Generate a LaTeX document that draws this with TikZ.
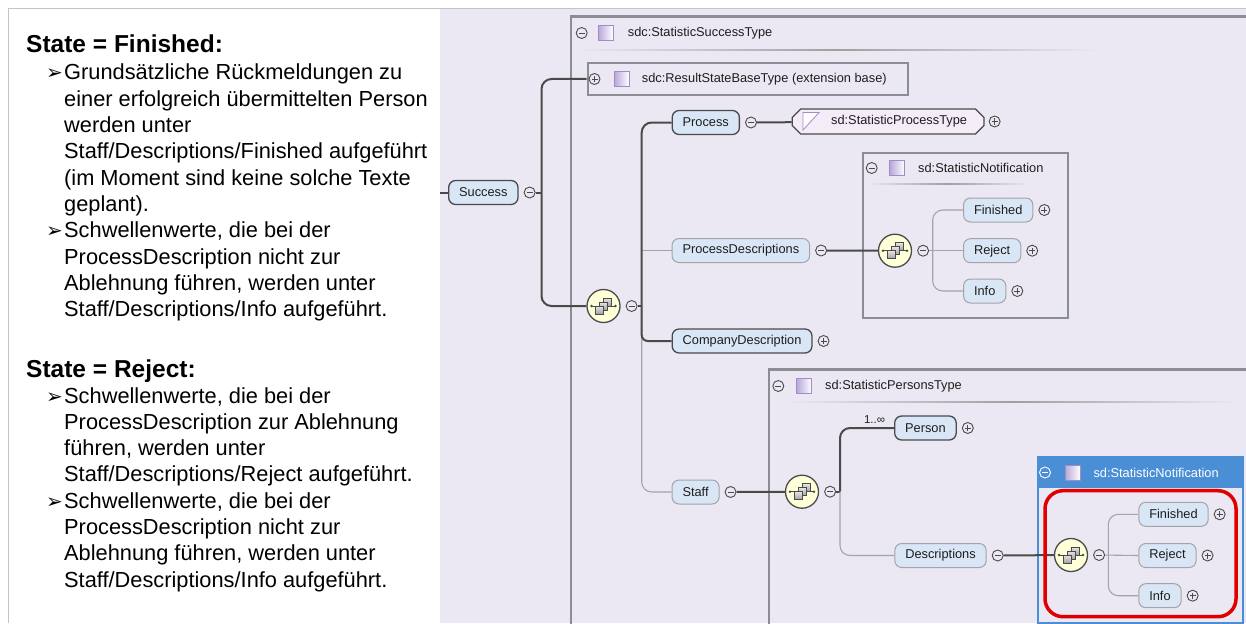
\documentclass[tikz,border=0pt]{standalone}
\usepackage{fontspec}
\setmainfont{Liberation Sans}
\newfontfamily\symfont{DejaVu Sans}
\usetikzlibrary{positioning,shapes.misc}

\definecolor{panelbg}{HTML}{EBE8F3}
\definecolor{elemfill}{HTML}{D8E6F6}
\definecolor{darkline}{HTML}{4A4A4A}
\definecolor{lightline}{HTML}{A4A4A8}
\definecolor{boxline}{HTML}{8C8C94}
\definecolor{seqfill}{HTML}{FFFFD8}
\definecolor{selblue}{HTML}{4A8ED6}
\definecolor{markred}{HTML}{E00000}
\definecolor{typefill}{HTML}{F4ECF6}
\definecolor{iconlo}{HTML}{B8A6D8}
\definecolor{iconedge}{HTML}{A08CC8}
\definecolor{framegray}{HTML}{C4C4C4}
\definecolor{inktext}{HTML}{1E1E1E}

\tikzset{
  elem/.style={draw=darkline, line width=1.3pt, fill=elemfill, rounded corners=7pt,
    minimum height=24pt, inner xsep=10.5pt, inner ysep=0pt,
    font=\fontsize{12.8}{15}\selectfont, text=inktext, anchor=west},
  optelem/.style={elem, draw=lightline, line width=1pt},
  ptype/.style={chamfered rectangle, chamfered rectangle xsep=5pt, draw=darkline,
    line width=1.3pt, fill=typefill, minimum height=25pt, inner xsep=12pt, inner ysep=0pt,
    font=\fontsize{12.8}{15}\selectfont, text=inktext, anchor=west},
  tmin/.style={circle, draw=darkline, line width=0.9pt, fill=panelbg, inner sep=0pt,
    minimum size=11pt, path picture={\draw[line width=0.9pt]
      ([xshift=-3pt]path picture bounding box.center) -- ([xshift=3pt]path picture bounding box.center);}},
  tplus/.style={tmin, path picture={\draw[line width=0.9pt]
      ([xshift=-3pt]path picture bounding box.center) -- ([xshift=3pt]path picture bounding box.center)
      ([yshift=-3pt]path picture bounding box.center) -- ([yshift=3pt]path picture bounding box.center);}},
  seq/.style={circle, draw=darkline, line width=1.3pt, fill=seqfill, minimum size=33pt, inner sep=0pt},
  link/.style={darkline, line width=2pt},
  optlink/.style={lightline, line width=1.1pt},
  typebox/.style={draw=boxline, line width=2.4pt},
  hdr/.style={font=\fontsize{12.8}{15}\selectfont, text=inktext, anchor=west, inner sep=0pt},
  body/.style={font=\fontsize{21.8}{26.3}\selectfont, anchor=base west, inner sep=0pt},
  head/.style={font=\bfseries\fontsize{24.5}{28}\selectfont, anchor=base west, inner sep=0pt},
  bullet/.style={font=\symfont\fontsize{20}{22}\selectfont, anchor=base west, inner sep=0pt},
}

% small icons of the schema view
\newcommand{\seqicon}[1]{%
  \begin{scope}[shift={(#1.center)}]
    \draw[darkline, line width=0.8pt] (-12,0) -- (12,0);
    \fill[darkline] (-12,0) circle (1.4) (12,0) circle (1.4);
    \foreach \cx/\cy in {4/-4, 0/0, -4/4}
      \draw[darkline, line width=0.6pt, top color=gray!20, bottom color=gray!75]
        (\cx-4,\cy-4) rectangle (\cx+4,\cy+4);
  \end{scope}}
\newcommand{\typeicon}[2]{%
  \shade[draw=iconedge, line width=0.6pt, left color=iconlo, right color=white]
    (#1-7.5,#2-7.5) rectangle (#1+7.5,#2+7.5);}
\newcommand{\hdrline}[3]{%
  \shade[left color=panelbg, right color=panelbg, middle color=gray!75]
    (#1,#3-0.8) rectangle (#2,#3+0.8);}

\begin{document}
\begin{tikzpicture}[x=1pt, y=-1pt]
  \useasboundingbox (0,0) rectangle (1246,623);
  \clip (0,0) rectangle (1246,623);
  \fill[white] (0,0) rectangle (1246,623);

  % Panel and frame
  \fill[panelbg] (440,9.5) rectangle (1246,623);
  \draw[framegray, line width=1.6pt] (8.5,623) -- (8.5,8.5) -- (1246,8.5);

  % Left text: State = Finished
  \node[head] (hfin) at (26,53) {State = Finished:};
  \foreach \txt [count=\i from 0] in {{Grundsätzliche Rückmeldungen zu},
      {einer erfolgreich übermittelten Person}, {werden unter},
      {Staff/Descriptions/Finished aufgeführt}, {(im Moment sind keine solche Texte},
      {geplant).}, {Schwellenwerte, die bei der}, {ProcessDescription nicht zur},
      {Ablehnung führen, werden unter}, {Staff/Descriptions/Info aufgeführt.}}
    \node[body] (fin\i) at (64,80+26.3*\i) {\txt};
  \node[bullet] (bf1) at (46,80) {➢};
  \node[bullet] (bf2) at (46,237.8) {➢};

  % Left text: State = Reject
  \node[head] (hrej) at (26,377) {State = Reject:};
  \foreach \txt [count=\i from 0] in {{Schwellenwerte, die bei der},
      {ProcessDescription zur Ablehnung}, {führen, werden unter},
      {Staff/Descriptions/Reject aufgeführt.}, {Schwellenwerte, die bei der},
      {ProcessDescription nicht zur}, {Ablehnung führen, werden unter},
      {Staff/Descriptions/Info aufgeführt.}}
    \node[body] (rej\i) at (64,403+26.3*\i) {\txt};
  \node[bullet] (br1) at (46,403) {➢};
  \node[bullet] (br2) at (46,508.2) {➢};

  % Type box sdc:StatisticSuccessType
  \draw[typebox] (571,16.5) rectangle (1262,640);
  \node[tmin] (stT) at (581.7,33) {};
  \typeicon{605.5}{33}
  \node[hdr] (stL) at (627.7,33) {sdc:StatisticSuccessType};
  \hdrline{575}{1100}{50}

  % Extension base
  \node[draw=boxline, line width=2.2pt, minimum width=320pt, minimum height=32pt,
    anchor=west, inner sep=0pt] (rsb) at (586.5,79) {};
  \node[tplus] (rsbT) at (594.5,79) {};
  \typeicon{621.5}{79}
  \node[hdr] (rsbL) at (641.7,79) {sdc:ResultStateBaseType (extension base)};

  % Success element
  \coordinate (pin) at (440,192.5);
  \node[elem] (succ) at (448,192.5) {Success};
  \node[tmin, right=5pt of succ] (succT) {};
  \draw[link] (pin) -- (succ);

  % First sequence
  \node[seq] (seq1) at (603.5,306) {};
  \seqicon{seq1}
  \node[tmin, right=5pt of seq1] (seq1T) {};
  \coordinate (fk1) at (541.5,192.5);
  \draw[link] (succT) -- (fk1);
  \draw[link, rounded corners=10pt] (fk1) |- (rsb.west);
  \draw[link, rounded corners=10pt] (fk1) |- (seq1.west);

  % Children of the first sequence
  \node[elem] (proc) at (671.5,122.5) {Process};
  \node[tmin, right=5pt of proc] (procT) {};
  \node[ptype] (ptyp) at (791.5,121.5) {\hspace*{22pt}sd:StatisticProcessType};
  \node[tplus, right=4pt of ptyp] (ptypT) {};
  \filldraw[fill=white, draw=iconedge, line width=0.8pt] (803,112.5) -- (819,112.5) -- (803,130) -- cycle;
  \node[optelem] (pdesc) at (671.5,250.5) {ProcessDescriptions};
  \node[tmin, right=5pt of pdesc] (pdescT) {};
  \node[elem] (comp) at (671.5,341) {CompanyDescription};
  \node[tplus, right=5pt of comp] (compT) {};
  \node[optelem] (staff) at (671.5,492) {Staff};
  \node[tmin, right=5pt of staff] (staffT) {};

  \coordinate (fk2) at (641.7,306);
  \draw[link] (seq1T) -- (fk2);
  \draw[optlink, rounded corners=10pt] (fk2) |- (staff.west);
  \draw[optlink] (fk2 |- pdesc.west) -- (pdesc.west);
  \draw[link, rounded corners=10pt] (fk2) |- (proc.west);
  \draw[link, rounded corners=6pt] (fk2) |- (comp.west);
  \draw[link] (procT) -- (ptyp);

  % Type box sd:StatisticNotification (process descriptions)
  \node[typebox, minimum width=205pt, minimum height=165pt, anchor=north west,
    inner sep=0pt] (nbox1) at (861.7,151.7) {};
  \node[tmin] (nb1T) at (871.7,168) {};
  \typeicon{897}{168}
  \node[hdr] (nb1L) at (918,168) {sd:StatisticNotification};
  \hdrline{866}{1030}{184}
  \node[seq] (seq2) at (895,250.7) {};
  \seqicon{seq2}
  \node[tmin, right=5pt of seq2] (seq2T) {};
  \draw[link] (pdescT) -- (seq2);
  \node[optelem] (fin1) at (963,210) {Finished};
  \node[tplus, right=5pt of fin1] (fin1T) {};
  \node[optelem] (rej1) at (963,250.7) {Reject};
  \node[tplus, right=5pt of rej1] (rej1T) {};
  \node[optelem] (inf1) at (963,291) {Info};
  \node[tplus, right=5pt of inf1] (inf1T) {};
  \coordinate (fk3) at (932.7,250.7);
  \draw[optlink] (seq2T) -- (rej1.west);
  \draw[optlink, rounded corners=10pt] (fk3) |- (fin1.west);
  \draw[optlink, rounded corners=10pt] (fk3) |- (inf1.west);

  % Type box sd:StatisticPersonsType
  \draw[typebox] (769,369.3) rectangle (1270,640);
  \node[tmin] (psT) at (778.3,386) {};
  \typeicon{804}{386}
  \node[hdr] (psL) at (825,386) {sd:StatisticPersonsType};
  \hdrline{785}{1240}{402}
  \node[seq] (seq3) at (802,491.7) {};
  \seqicon{seq3}
  \node[tmin, right=5pt of seq3] (seq3T) {};
  \draw[link] (staffT) -- (seq3);
  \node[elem] (pers) at (894,428) {Person};
  \node[tplus, right=5pt of pers] (persT) {};
  \node[hdr, anchor=center, font=\fontsize{11.5}{13}\selectfont] (mult) at (874.5,420) {1..∞};
  \node[optelem] (desc) at (894.3,555.5) {Descriptions};
  \node[tmin, right=5pt of desc] (descT) {};
  \coordinate (fk4) at (840,491.7);
  \draw[link] (seq3T) -- (fk4);
  \draw[optlink, rounded corners=10pt] (fk4) |- (desc.west);
  \draw[link, rounded corners=10pt] (fk4) |- (pers.west);

  % Selected type box sd:StatisticNotification (descriptions)
  \node[draw=selblue, line width=2pt, fill=panelbg, minimum width=205pt, minimum height=165.7pt,
    anchor=north west, inner sep=0pt] (nbox2) at (1036.7,456) {};
  \fill[selblue] (1036.7,456) rectangle (1241.7,488.3);
  \node[tmin, draw=white, fill=selblue, path picture={\draw[white, line width=0.9pt]
      ([xshift=-3pt]path picture bounding box.center) -- ([xshift=3pt]path picture bounding box.center);}]
    (nb2T) at (1045,472.5) {};
  \typeicon{1072.5}{472.5}
  \node[hdr, text=white] (nb2L) at (1093.3,472.5) {sd:StatisticNotification};
  \node[seq] (seq4) at (1071,555) {};
  \seqicon{seq4}
  \node[tmin, right=5pt of seq4] (seq4T) {};
  \draw[link] (descT) -- (seq4);
  \node[optelem] (fin2) at (1138.3,514.3) {Finished};
  \node[tplus, right=5pt of fin2] (fin2T) {};
  \node[optelem] (rej2) at (1138.3,555.5) {Reject};
  \node[tplus, right=5pt of rej2] (rej2T) {};
  \node[optelem] (inf2) at (1138.3,595.7) {Info};
  \node[tplus, right=5pt of inf2] (inf2T) {};
  \coordinate (fk5) at (1108.3,555.5);
  \draw[optlink] (seq4T) -- (rej2.west);
  \draw[optlink, rounded corners=10pt] (fk5) |- (fin2.west);
  \draw[optlink, rounded corners=10pt] (fk5) |- (inf2.west);

  % Red highlight
  \draw[markred, line width=3.5pt, rounded corners=18pt] (1045,490.7) rectangle (1236,616.7);
\end{tikzpicture}
\end{document}
